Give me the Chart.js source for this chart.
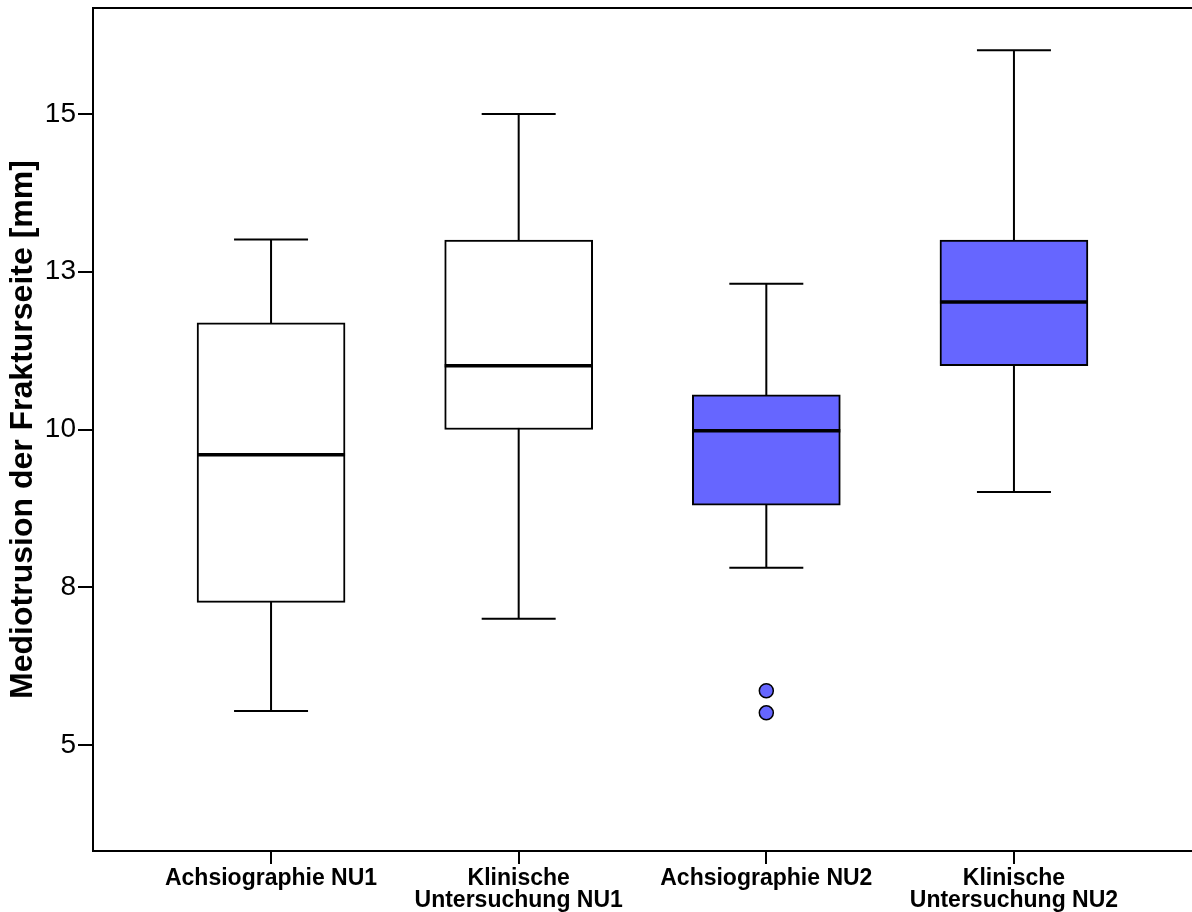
<!DOCTYPE html>
<html>
<head>
<meta charset="utf-8">
<script src="https://cdn.jsdelivr.net/npm/chart.js@4"></script>
<style>
  html, body { margin: 0; padding: 0; background: #fff; }
  #wrap { width: 1192px; height: 912px; }
</style>
</head>
<body>
<div id="wrap"><canvas id="boxChart"></canvas></div>
<script>
// categories on the x axis (multi-line labels)
const categories = [
  ['Achsiographie NU1'],
  ['Klinische', 'Untersuchung NU1'],
  ['Achsiographie NU2'],
  ['Klinische', 'Untersuchung NU2']
];
// box plot values per category
const whiskerLow  = [5.54, 7.0, 7.81, 9.01];
const quartile1   = [7.26, 10.0, 8.80, 11.01];
const medians     = [9.60, 11.01, 9.98, 12.02];
const quartile3   = [11.69, 13.0, 10.55, 13.0];
const whiskerHigh = [13.01, 15.0, 12.31, 16.01];
// outliers
const outlierCat    = [2, 2];
const outlierValues = [5.86, 5.51];
// y ticks (SPSS shows them rounded)
const yTicks = [5, 7.5, 10, 12.5, 15];

const boxColors = ['#ffffff', '#ffffff', '#6666ff', '#6666ff'];
const boxWidth = 148;

// whiskers + caps before the boxes, median after
const boxLines = {
  id: 'boxLines',
  beforeDatasetsDraw(chart) {
    const { ctx, scales: { x, y } } = chart;
    ctx.save();
    ctx.strokeStyle = '#000';
    ctx.lineWidth = 2;
    categories.forEach((c, i) => {
      const cx = x.getPixelForValue(i);
      const lo = y.getPixelForValue(whiskerLow[i]);
      const hi = y.getPixelForValue(whiskerHigh[i]);
      ctx.beginPath();
      ctx.moveTo(cx, lo); ctx.lineTo(cx, hi);
      ctx.moveTo(cx - boxWidth / 4, lo); ctx.lineTo(cx + boxWidth / 4, lo);
      ctx.moveTo(cx - boxWidth / 4, hi); ctx.lineTo(cx + boxWidth / 4, hi);
      ctx.stroke();
    });
    ctx.restore();
  },
  afterDatasetsDraw(chart) {
    const { ctx, chartArea, scales: { x, y } } = chart;
    ctx.save();
    ctx.strokeStyle = '#000';
    ctx.lineWidth = 3.5;
    categories.forEach((c, i) => {
      const cx = x.getPixelForValue(i);
      const m = y.getPixelForValue(medians[i]);
      ctx.beginPath();
      ctx.moveTo(cx - boxWidth / 2, m); ctx.lineTo(cx + boxWidth / 2, m);
      ctx.stroke();
    });
    // top frame line
    ctx.lineWidth = 2;
    ctx.beginPath();
    ctx.moveTo(chartArea.left - 1, chartArea.top);
    ctx.lineTo(chartArea.right, chartArea.top);
    ctx.stroke();
    ctx.restore();
  }
};

new Chart(document.getElementById('boxChart'), {
  type: 'bar',
  data: {
    datasets: [
      {
        type: 'scatter',
        data: outlierCat.map((c, i) => ({ x: c, y: outlierValues[i] })),
        pointRadius: 7,
        pointBackgroundColor: '#6666ff',
        pointBorderColor: '#000',
        pointBorderWidth: 1.5
      },
      {
        data: categories.map((c, i) => ({ x: i, y: [quartile1[i], quartile3[i]] })),
        backgroundColor: boxColors,
        borderColor: '#000',
        borderWidth: 2,
        borderSkipped: false,
        barThickness: boxWidth
      }
    ]
  },
  options: {
    responsive: true,
    maintainAspectRatio: false,
    animation: false,
    layout: { autoPadding: false, padding: { top: 8, left: 0, right: 0, bottom: 0 } },
    plugins: { legend: { display: false }, tooltip: { enabled: false } },
    scales: {
      x: {
        type: 'linear',
        offset: false,
        min: -0.719,
        max: 3.719,
        afterBuildTicks: (axis) => { axis.ticks = [0, 1, 2, 3].map(v => ({ value: v })); },
        afterFit: (axis) => {
          axis.height = 61;
          axis.paddingLeft = 0;
          axis.paddingRight = 0;
        },
        grid: { offset: false, drawOnChartArea: false, drawTicks: true, tickLength: 13, color: '#000', lineWidth: 2 },
        border: { display: true, color: '#000', width: 2 },
        ticks: {
          autoSkip: false,
          maxRotation: 0,
          padding: 3,
          color: '#000',
          font: { family: 'Liberation Sans', size: 23, weight: 'bold', lineHeight: 0.98 },
          callback: (v) => categories[v]
        }
      },
      y: {
        min: 3.32,
        max: 16.68,
        afterBuildTicks: (axis) => { axis.ticks = yTicks.map(v => ({ value: v })); },
        afterFit: (axis) => {
          axis.width = 93;
          axis.paddingTop = 0;
          axis.paddingBottom = 0;
        },
        grid: { drawOnChartArea: false, drawTicks: true, tickLength: 15, color: '#000', lineWidth: 2 },
        border: { display: true, color: '#000', width: 2 },
        ticks: {
          padding: 2,
          color: '#000',
          font: { family: 'Liberation Sans', size: 28 },
          callback: (v) => Math.round(v)
        },
        title: {
          display: true,
          text: 'Mediotrusion der Frakturseite [mm]',
          color: '#000',
          padding: { top: 4, bottom: 0 },
          font: { family: 'Liberation Sans', size: 32, weight: 'bold' }
        }
      }
    }
  },
  plugins: [boxLines]
});
</script>
</body>
</html>
